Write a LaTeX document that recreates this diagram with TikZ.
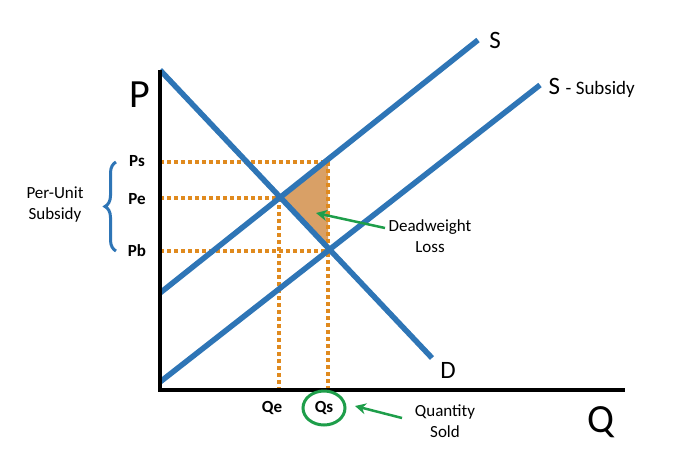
\documentclass[tikz,border=0pt]{standalone}
\usepackage{fontspec}
\setmainfont{Carlito}
\usetikzlibrary{decorations.pathreplacing,arrows.meta}
\definecolor{lblue}{HTML}{2E75B6}
\definecolor{dorange}{HTML}{E08A1E}
\definecolor{tan}{HTML}{D9A066}
\definecolor{agreen}{HTML}{1E9E4A}
\tikzset{curve/.style={lblue,line width=5.5pt},
 dots/.style={dorange,line width=4.5pt,dash pattern=on 4pt off 3pt},
 ax/.style={black,line width=4pt},
 garrow/.style={agreen,line width=2.5pt,-{Stealth[length=11pt,width=11pt]}},
 lab/.style={font=\fontsize{17}{19}\selectfont\bfseries},
 txt/.style={align=center,font=\fontsize{17}{21}\selectfont}}
\begin{document}
\begin{tikzpicture}[x=1pt,y=-1pt]
\useasboundingbox[fill=white] (0,0) rectangle (680,461);
\coordinate (E) at (279,198);
\coordinate (Sa) at (328,162);
\coordinate (Sb) at (328,251);
\fill[tan] (E) -- (Sa) -- (Sb) -- cycle;
\draw[dots] (160,162) -- (Sa) -- (328,388);
\draw[dots] (160,198) -- (E) -- (279,388);
\draw[dots] (160,251) -- (Sb);
\draw[curve] (160,70) -- (432,358);
\draw[curve] (160,293) -- (478,40);
\draw[curve] (160,382) -- (540,85);
\draw[ax] (160,70) -- (160,390) -- (625,390);
\node[font=\fontsize{40}{44}\selectfont] (P) at (140,95) {P};
\node[font=\fontsize{40}{44}\selectfont] (Q) at (601,422) {Q};
\node[font=\fontsize{25}{28}\selectfont] (S) at (495,40) {S};
\node[anchor=west,font=\fontsize{25}{28}\selectfont] (SS) at (545,88) {S \fontsize{19}{22}\selectfont- Subsidy};
\node[font=\fontsize{25}{28}\selectfont] (D) at (448,370) {D};
\node[lab] (Ps) at (137,161) {Ps};
\node[lab] (Pe) at (137,199) {Pe};
\node[lab] (Pb) at (137,251) {Pb};
\draw[lblue,line width=3pt,decorate,decoration={brace,amplitude=11pt}] (116,251) -- (116,162);
\node[txt] (pu) at (55,205) {Per-Unit\\Subsidy};
\node[txt] (dw) at (430,236) {Deadweight\\Loss};
\draw[garrow] (385,228) -- (316,213);
\node[lab] (Qe) at (272,408) {Qe};
\node[lab] (Qs) at (324,408) {Qs};
\draw[agreen,line width=3pt] (Qs) ellipse (21 and 17);
\node[txt] (qs) at (445,421) {Quantity\\Sold};
\draw[garrow] (402,418) -- (355,406);
\end{tikzpicture}
\end{document}
